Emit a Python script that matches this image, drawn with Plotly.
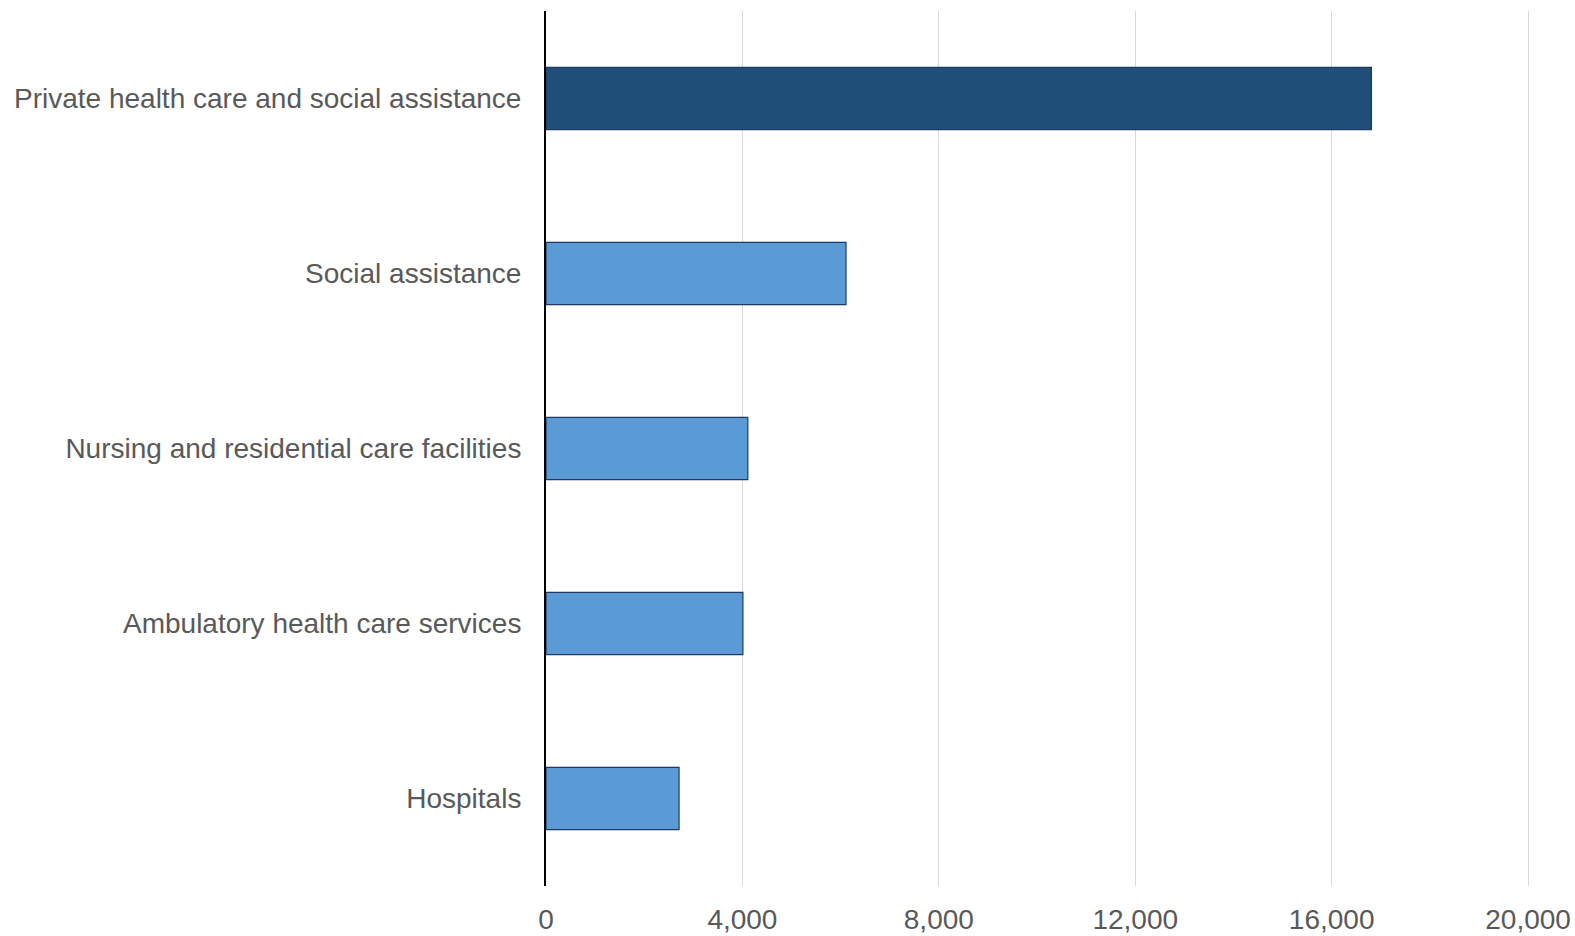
import plotly.graph_objects as go

categories = [
    "Private health care and social assistance",
    "Social assistance",
    "Nursing and residential care facilities",
    "Ambulatory health care services",
    "Hospitals",
]
values = [16810, 6110, 4110, 4010, 2710]
bar_colors = ["#1F4E79", "#5B9BD5", "#5B9BD5", "#5B9BD5", "#5B9BD5"]
tick_vals = [0, 4000, 8000, 12000, 16000, 20000]
tick_text = ["0", "4,000", "8,000", "12,000", "16,000", "20,000"]

fig = go.Figure(
    go.Bar(
        x=values,
        y=categories,
        orientation="h",
        marker=dict(color=bar_colors, line=dict(color="#1F3864", width=1.2)),
        width=0.355,
    )
)

fig.update_layout(
    width=1575,
    height=936,
    margin=dict(l=546, r=44, t=11, b=50, autoexpand=False),
    plot_bgcolor="white",
    paper_bgcolor="white",
    showlegend=False,
    font=dict(family="Liberation Sans, Arial, sans-serif", size=28, color="#595959"),
)
fig.update_xaxes(
    range=[0, 20060],
    tickvals=tick_vals,
    ticktext=tick_text,
    showgrid=True,
    gridcolor="#D9D9D9",
    gridwidth=1.2,
    zeroline=False,
    showline=False,
    ticks="",
    ticklabelstandoff=14,
    tickfont=dict(size=28),
    automargin=False,
)
fig.update_yaxes(
    autorange="reversed",
    showgrid=False,
    showline=True,
    linecolor="black",
    linewidth=2,
    ticks="",
    ticklabelstandoff=17,
    tickfont=dict(size=28),
    automargin=False,
)

fig.write_html(
    "out.html",
    config={"displayModeBar": False},
    post_script="document.body.style.margin='0';document.body.style.overflow='hidden';",
)
